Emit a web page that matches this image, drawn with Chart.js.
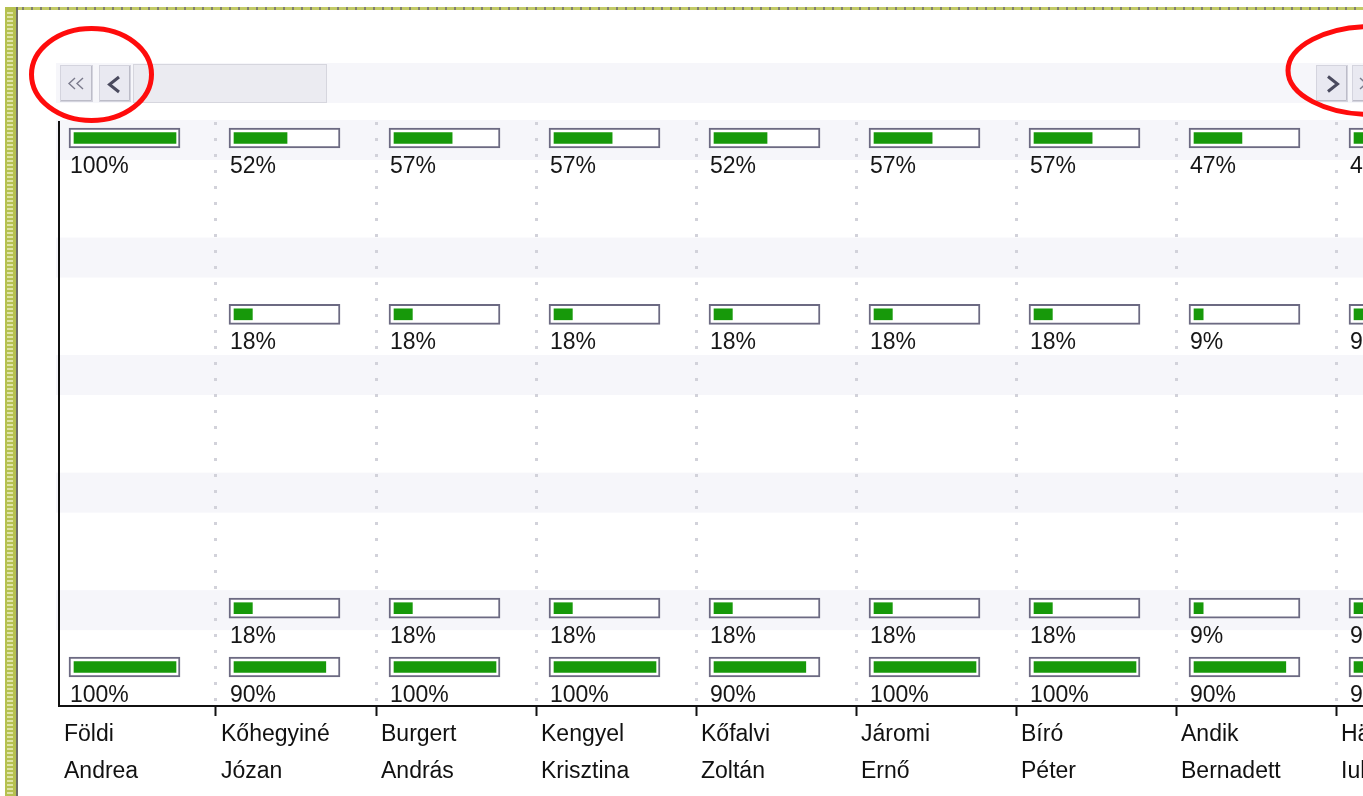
<!DOCTYPE html>
<html>
<head>
<meta charset="utf-8">
<title>Haladás</title>
<script src="https://cdn.jsdelivr.net/npm/chart.js@4/dist/chart.umd.min.js"></script>
<style>
  html, body { margin: 0; padding: 0; background: #fff; overflow: hidden; }
  canvas { display: block; }
</style>
</head>
<body>
<canvas id="progressChart" width="1363" height="796"></canvas>
<script>
// people shown as columns (two-line names)
const people = [
    ['Földi', 'Andrea'],
    ['Kőhegyiné', 'Józan'],
    ['Burgert', 'András'],
    ['Kengyel', 'Krisztina'],
    ['Kőfalvi', 'Zoltán'],
    ['Járomi', 'Ernő'],
    ['Bíró', 'Péter'],
    ['Andik', 'Bernadett'],
    ['Häfner', 'Iuliana']
];

// percentages per row, one per person; null = no bar in that cell
const firstRow  = [100, 52, 57, 57, 52, 57, 57, 47, 47];
const fourthRow = [null, 18, 18, 18, 18, 18, 18, 9, 9];
const ninthRow  = [null, 18, 18, 18, 18, 18, 18, 9, 9];
const lastRow   = [100, 90, 100, 100, 90, 100, 100, 90, 90];

const rowCount = 10;
const filledRows = [[0, firstRow], [3, fourthRow], [8, ninthRow], [9, lastRow]];
const shadedRows = [0, 2, 4, 6, 8];

// column layout, in pixels of a 160px column
const COL = 160;
const TRACK_FROM = 13, TRACK_TO = 124;
const FILL_FROM = 18, FILL_FULL = 102;
const X_MIN = 3 / COL;
const X_MAX = X_MIN + 1304 / COL;

const trackData = [];
const fillData = [];
filledRows.forEach(([row, values]) => {
    values.forEach((v, col) => {
        if (v === null) return;
        trackData.push({ x: [col + TRACK_FROM / COL, col + TRACK_TO / COL], y: row, pct: v });
        fillData.push({ x: [col + FILL_FROM / COL, col + (FILL_FROM + FILL_FULL * v / 100) / COL], y: row, pct: v });
    });
});

const FONT = '"Liberation Sans", Arial, sans-serif';

function drawButton(ctx, x, y, w, h) {
    ctx.fillStyle = '#e9e9f1';
    ctx.fillRect(x, y, w, h);
    ctx.strokeStyle = '#d4d4de';
    ctx.lineWidth = 1;
    ctx.strokeRect(x + 0.5, y + 0.5, w - 1, h - 1);
    ctx.strokeStyle = '#bcbcc8';
    ctx.beginPath();
    ctx.moveTo(x + w - 1.5, y + 1);
    ctx.lineTo(x + w - 1.5, y + h - 1.5);
    ctx.lineTo(x + 1, y + h - 1.5);
    ctx.stroke();
}

function chevron(ctx, tipX, cy, armX, half, lw, color) {
    ctx.strokeStyle = color;
    ctx.lineWidth = lw;
    ctx.lineJoin = 'miter';
    ctx.beginPath();
    ctx.moveTo(armX, cy - half);
    ctx.lineTo(tipX, cy);
    ctx.lineTo(armX, cy + half);
    ctx.stroke();
}

const framePlugin = {
    id: 'frame',
    beforeDraw(chart) {
        const ctx = chart.ctx;
        const W = chart.width, H = chart.height;
        ctx.save();
        ctx.fillStyle = '#fff';
        ctx.fillRect(0, 0, W, H);

        // olive page frame: top dotted strip and left striped column
        ctx.fillStyle = '#c2ca66';
        ctx.fillRect(5, 7, W - 5, 3);
        ctx.fillStyle = '#80806e';
        for (let x = 22; x < W; x += 9) ctx.fillRect(x, 7, 2, 3);
        ctx.fillStyle = '#b6c150';
        ctx.fillRect(5, 7, 11, H - 7);
        ctx.fillStyle = '#dfe4a6';
        for (let y = 12; y < H; y += 4) ctx.fillRect(7, y, 6, 2);
        ctx.fillStyle = '#6e6e66';
        ctx.fillRect(16, 7, 2, H - 7);

        // pager strip above the grid
        ctx.fillStyle = '#f6f6fa';
        ctx.fillRect(56, 63, W - 56, 40);
        drawButton(ctx, 60, 65, 33, 37);
        drawButton(ctx, 99, 65, 32, 37);
        ctx.fillStyle = '#ebebf1';
        ctx.fillRect(133, 64, 194, 39);
        ctx.strokeStyle = '#d6d6de';
        ctx.lineWidth = 1;
        ctx.strokeRect(133.5, 64.5, 193, 38);
        chevron(ctx, 69, 83.5, 75, 5.5, 1.4, '#7a7a8c');
        chevron(ctx, 77, 83.5, 83, 5.5, 1.4, '#7a7a8c');
        chevron(ctx, 109.5, 84.5, 119, 7.5, 3, '#4a4a5e');
        drawButton(ctx, 1316, 65, 32, 37);
        drawButton(ctx, 1352, 65, 33, 37);
        chevron(ctx, 1337.5, 84, 1328, 7.5, 3, '#4a4a5e');
        chevron(ctx, 1366, 83.5, 1360, 5.5, 1.4, '#7a7a8c');

        // alternating row bands
        const yScale = chart.scales.y;
        ctx.fillStyle = '#f6f6fa';
        shadedRows.forEach(r => {
            const cy = yScale.getPixelForValue(r) + 2;
            ctx.fillRect(56, cy - 20, W - 56, 40);
        });
        ctx.restore();
    },
    afterDatasetsDraw(chart) {
        const ctx = chart.ctx;
        const meta = chart.getDatasetMeta(1);
        ctx.save();
        ctx.fillStyle = '#161616';
        ctx.font = '23px ' + FONT;
        ctx.textAlign = 'left';
        ctx.textBaseline = 'alphabetic';
        meta.data.forEach((bar, i) => {
            const point = chart.data.datasets[1].data[i];
            ctx.fillText(point.pct + '%', bar.base + 1, bar.y + 35);
        });
        ctx.restore();
    },
    afterDraw(chart) {
        // red marker rings around the pager buttons
        const ctx = chart.ctx;
        ctx.save();
        ctx.strokeStyle = '#ff0c0c';
        ctx.lineWidth = 5;
        ctx.beginPath();
        ctx.ellipse(91.5, 74.5, 60, 46, 0, 0, Math.PI * 2);
        ctx.stroke();
        ctx.beginPath();
        ctx.ellipse(1372, 70.5, 84, 44, 0, 0, Math.PI * 2);
        ctx.stroke();
        ctx.restore();
    }
};

const config = {
    type: 'bar',
    data: {
        datasets: [
            {
                label: 'fill',
                data: fillData,
                backgroundColor: '#17990a',
                borderWidth: 0,
                barThickness: 11,
                grouped: false,
                order: 1
            },
            {
                label: 'track',
                data: trackData,
                backgroundColor: '#ffffff',
                borderColor: '#6c6a82',
                borderWidth: 2,
                borderSkipped: false,
                barThickness: 20,
                grouped: false,
                order: 2
            }
        ]
    },
    options: {
        indexAxis: 'y',
        responsive: false,
        animation: false,
        events: [],
        layout: {
            padding: { left: 59, top: 122, right: 0, bottom: 6 }
        },
        plugins: {
            legend: { display: false },
            tooltip: { enabled: false },
            title: { display: false }
        },
        scales: {
            x: {
                type: 'linear',
                position: 'bottom',
                min: X_MIN,
                max: X_MAX,
                offset: false,
                afterBuildTicks: scale => {
                    scale.ticks = people.map((p, i) => ({ value: i === 0 ? X_MIN : i }));
                },
                afterFit: scale => {
                    scale.paddingLeft = 0;
                    scale.paddingRight = 0;
                },
                ticks: {
                    autoSkip: false,
                    maxRotation: 0,
                    minRotation: 0,
                    align: 'start',
                    labelOffset: 5,
                    padding: 0,
                    color: '#111',
                    font: { family: FONT, size: 23, lineHeight: '37px' },
                    callback: value => people[Math.round(value)]
                },
                grid: {
                    color: ctx => ctx.index === 0 ? 'rgba(0,0,0,0)' : '#d2d2da',
                    lineWidth: 3,
                    tickColor: ctx => ctx.index === 0 ? 'rgba(0,0,0,0)' : '#111',
                    tickLength: 10,
                    tickWidth: 2,
                    tickBorderDash: []
                },
                border: { display: true, color: '#111', width: 2, dash: [3, 13] }
            },
            y: {
                type: 'linear',
                reverse: true,
                offset: false,
                min: -0.272,
                max: rowCount - 1 + 0.664,
                ticks: { display: false },
                grid: { drawOnChartArea: false, drawTicks: false },
                border: { display: true, color: '#111', width: 2 }
            }
        }
    },
    plugins: [framePlugin]
};

new Chart(document.getElementById('progressChart').getContext('2d'), config);
</script>
</body>
</html>
